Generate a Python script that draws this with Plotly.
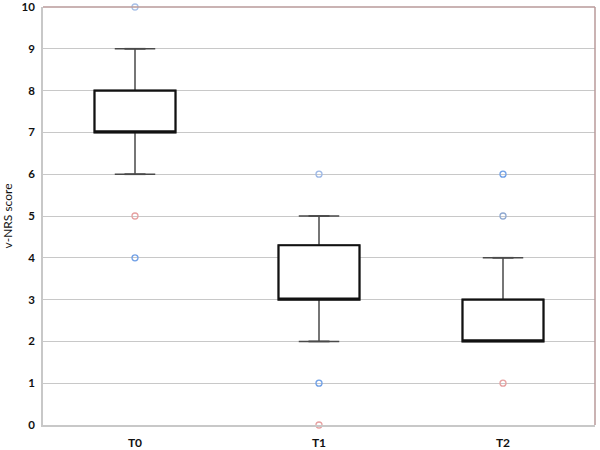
import plotly.graph_objects as go

categories = ["T0", "T1", "T2"]
q1 = [7, 3, 2]
median = [7, 3, 2]
q3 = [8, 4.3, 3]
lower_whisker = [6, 2, 2]
upper_whisker = [9, 5, 4]

outlier_cat = ["T0", "T0", "T0", "T1", "T1", "T1", "T2", "T2", "T2"]
outlier_val = [10, 5, 4, 6, 1, 0, 6, 5, 1]
outlier_col = ["#a9c1e8", "#e6a0a0", "#6f9fe6", "#9db8e6", "#6f9fe6", "#e6a0a0",
               "#6f9fe6", "#8fa8d0", "#e6a0a0"]

y_ticks = list(range(0, 11))

fig = go.Figure()

# whiskers (gray)
fig.add_trace(go.Box(
    x=categories, q1=q1, median=median, q3=q3,
    lowerfence=lower_whisker, upperfence=upper_whisker,
    width=0.44, line=dict(color="#4a4a4a", width=1.5),
    fillcolor="rgba(0,0,0,0)", boxpoints=False, showlegend=False,
    hoverinfo="skip",
))
# box (black, thick)
fig.add_trace(go.Box(
    x=categories, q1=q1, median=median, q3=q3,
    lowerfence=q1, upperfence=q3,
    width=0.44, line=dict(color="#111111", width=2.2),
    fillcolor="white", boxpoints=False, showlegend=False,
))
# whisker caps
cap_x = []
cap_y = []
for c, lo, hi, a, b in zip(categories, lower_whisker, upper_whisker, q1, q3):
    if hi > b:
        cap_x.append(c); cap_y.append(hi)
    if lo < a:
        cap_x.append(c); cap_y.append(lo)
fig.add_trace(go.Scatter(
    x=cap_x, y=cap_y, mode="markers",
    marker=dict(symbol="line-ew", size=15, line=dict(color="#4a4a4a", width=1.8)),
    showlegend=False, cliponaxis=False,
))
# outliers
fig.add_trace(go.Scatter(
    x=outlier_cat, y=outlier_val, mode="markers",
    marker=dict(symbol="circle-open", size=6, color=outlier_col,
                line=dict(color=outlier_col, width=1.3)),
    showlegend=False, cliponaxis=False,
))

fig.update_layout(
    width=600, height=450,
    margin=dict(l=43, r=5, t=7, b=25),
    paper_bgcolor="white", plot_bgcolor="white",
    boxmode="overlay",
    font=dict(family="Lato, Open Sans, sans-serif", color="#111111"),
    xaxis=dict(
        type="category", categoryorder="array", categoryarray=categories,
        range=[-0.5, 2.5], showgrid=False, showline=True, linecolor="#c8c8c8",
        linewidth=1.5, ticks="", tickfont=dict(size=12, weight="bold"),
        zeroline=False, automargin=False, ticklabeloverflow="allow",
        ticklabelstandoff=6,
    ),
    yaxis=dict(
        range=[0, 10], tickvals=y_ticks, showgrid=True, gridcolor="#c8c8c8",
        gridwidth=1.2, showline=True, linecolor="#c8c8c8", linewidth=1.5,
        ticks="", tickfont=dict(size=11.5, weight="bold"), zeroline=False,
        ticklabelstandoff=4, automargin=False, ticklabeloverflow="allow",
        title=dict(text="v-NRS score", font=dict(size=12), standoff=8),
    ),
    shapes=[
        dict(type="line", xref="paper", yref="paper", x0=0, x1=1, y0=1, y1=1,
             line=dict(color="#b89a9a", width=1.5)),
        dict(type="line", xref="paper", yref="paper", x0=1, x1=1, y0=0, y1=1,
             line=dict(color="#b89a9a", width=1.5)),
    ],
)

fig.write_html("out.html", config={"displayModeBar": False},
               post_script="document.body.style.margin='0';document.body.style.overflow='hidden';")
